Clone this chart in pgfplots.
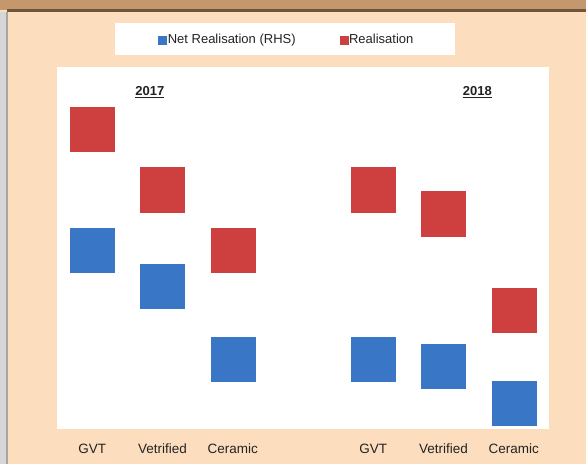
\documentclass[border=0pt]{standalone}
\usepackage{pgfplots}
\pgfplotsset{compat=1.18}
\usepackage{fontspec}
\setmainfont{Liberation Sans}
\definecolor{peach}{RGB}{252,222,190}
\definecolor{bandbrown}{RGB}{196,152,108}
\definecolor{bandline}{RGB}{110,85,60}
\definecolor{stripe}{RGB}{214,214,214}
\definecolor{blueC}{RGB}{58,118,198}
\definecolor{redC}{RGB}{206,64,64}
\definecolor{txt}{RGB}{35,35,35}
\begin{document}
\begin{tikzpicture}[x=1pt,y=1pt]
\useasboundingbox (0,0) rectangle (586,464);
\fill[peach] (0,0) rectangle (586,464);
\fill[stripe] (0,0) rectangle (7,452);
\fill[gray!70] (6,0) rectangle (7.5,452);
\fill[bandbrown] (0,454) rectangle (586,464);
\fill[bandline] (7,452) rectangle (586,454.5);
\fill[white] (115,409) rectangle (455,441);
\begin{axis}[
  at={(57pt,35pt)}, anchor=south west,
  scale only axis, width=492pt, height=362pt,
  xmin=-0.5, xmax=6.5, ymin=0, ymax=362,
  axis background/.style={fill=white},
  axis line style={draw=none},
  xtick={0,1,2,4,5,6},
  xticklabels={GVT,Vetrified,Ceramic,GVT,Vetrified,Ceramic},
  ytick=\empty,
  major tick length=0pt,
  xticklabel style={font=\fontsize{13.5}{15}\selectfont, text=txt, text height=11pt, text depth=3pt, yshift=-10pt},
  legend columns=2,
  legend style={at={(0.2057,1.075)}, anchor=west, draw=none, fill=none,
    inner sep=0pt, font=\fontsize{13}{15}\selectfont, text=txt,
    nodes={inner sep=1pt},
    /tikz/every even column/.append style={column sep=43pt}},
  clip=false,
]
\addlegendimage{legend image code/.code={\fill[blueC] (0pt,-4pt) rectangle (8pt,4pt);}}
\addlegendentry{Net Realisation (RHS)}
\addlegendimage{legend image code/.code={\fill[redC] (0pt,-4pt) rectangle (8pt,4pt);}}
\addlegendentry{Realisation}
\addplot[only marks, mark=square*, mark size=22pt, mark options={draw=redC, fill=redC}, forget plot]
  coordinates {(0,300) (1,239.3) (2,179.3) (4,239.3) (5,215.3) (6,118.7)};
\addplot[only marks, mark=square*, mark size=22pt, mark options={draw=blueC, fill=blueC}, forget plot]
  coordinates {(0,179.3) (1,142.5) (2,70.3) (4,70.3) (5,62.7) (6,26.3)};
\node[font=\bfseries\fontsize{13}{15}\selectfont, text=txt] at (axis cs:0.82,337) {\underline{2017}};
\node[font=\bfseries\fontsize{13}{15}\selectfont, text=txt] at (axis cs:5.48,337) {\underline{2018}};
\end{axis}
\end{tikzpicture}
\end{document}
